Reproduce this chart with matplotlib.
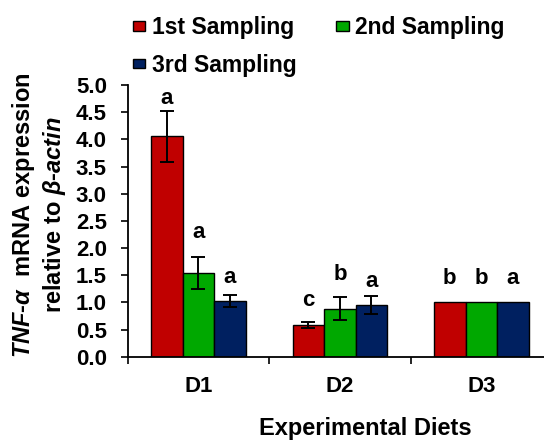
import numpy as np
import matplotlib.pyplot as plt

plt.rcParams['font.family'] = ['Liberation Sans', 'DejaVu Sans']
plt.rcParams['font.weight'] = 'bold'
plt.rcParams['mathtext.fontset'] = 'custom'
plt.rcParams['mathtext.rm'] = 'Liberation Sans:bold'
plt.rcParams['mathtext.it'] = 'Liberation Sans:bold:italic'
plt.rcParams['mathtext.bf'] = 'Liberation Sans:bold'

diets = ['D1', 'D2', 'D3']
series = ['1st Sampling', '2nd Sampling', '3rd Sampling']
colors = ['#C00000', '#00A800', '#002060']

means = [
    [4.06, 0.59, 1.00],
    [1.54, 0.88, 1.00],
    [1.03, 0.95, 1.00],
]
errs = [
    [0.47, 0.055, 0.0],
    [0.29, 0.21, 0.0],
    [0.11, 0.16, 0.0],
]
letters = [
    ['a', 'c', 'b'],
    ['a', 'b', 'b'],
    ['a', 'a', 'a'],
]
letter_y = [
    [4.76, 1.03, 1.44],
    [2.28, 1.52, 1.44],
    [1.46, 1.39, 1.44],
]

fig = plt.figure(figsize=(5.44, 4.43), dpi=100)
ax = fig.add_axes([0.2347, 0.1948, 0.78, 0.6133])

x = np.arange(len(diets)) + 0.5
w = 0.223
bars = []
for i in range(3):
    pos = x + (i - 1) * w
    b = ax.bar(pos, means[i], w, color=colors[i], edgecolor='black',
               linewidth=1.0, label=series[i])
    bars.append(b)
    for j in range(3):
        if errs[i][j] > 0:
            ax.errorbar(pos[j], means[i][j], yerr=errs[i][j], fmt='none',
                        ecolor='black', elinewidth=1.4, capsize=4.7, capthick=1.4)
        ax.text(pos[j], letter_y[i][j], letters[i][j], ha='center', va='center',
                fontsize=16, fontweight='bold')

ax.set_xlim(0, 3)
ax.set_ylim(0, 5)
yt = np.arange(0, 5.01, 0.5)
ax.set_yticks(yt)
ax.set_yticklabels(['%.1f' % v for v in yt], fontsize=16, fontweight='bold')
ax.set_xticks([0, 1, 2, 3])
ax.set_xticklabels([])
ax.set_xticks(x, minor=True)
ax.set_xticklabels(diets, minor=True, fontsize=16, fontweight='bold')
ax.tick_params(axis='x', which='minor', length=0, pad=14)
ax.tick_params(axis='both', which='major', direction='out', length=5, width=1.2)
ax.tick_params(axis='y', pad=10)

for s in ['top', 'right']:
    ax.spines[s].set_visible(False)
for s in ['left', 'bottom']:
    ax.spines[s].set_linewidth(1.3)

ax.set_xlabel('Experimental Diets', fontsize=17, fontweight='bold')
ax.xaxis.set_label_coords(0.559, -0.222)

fig.text(0.0717, 0.515,
         r'$\mathit{TNF}$-$\mathit{α}$  mRNA expression' + '\n' +
         r'relative to $\mathit{β}$-$\mathit{actin}$',
         rotation=90, ha='center', va='center', multialignment='center',
         fontsize=17, fontweight='bold', linespacing=1.2)

# legend filled row by row: 1st, 2nd on top, 3rd below
order = [0, 2, 1]
ax.legend([bars[k] for k in order], [series[k] for k in order],
          loc='lower left', bbox_to_anchor=(0.012, 1.03), ncol=2, frameon=False,
          fontsize=16.5, handlelength=0.55, handleheight=0.28, handletextpad=0.3,
          columnspacing=1.7, labelspacing=0.65, borderaxespad=0, borderpad=0)

fig.savefig('out.png', dpi=100)
